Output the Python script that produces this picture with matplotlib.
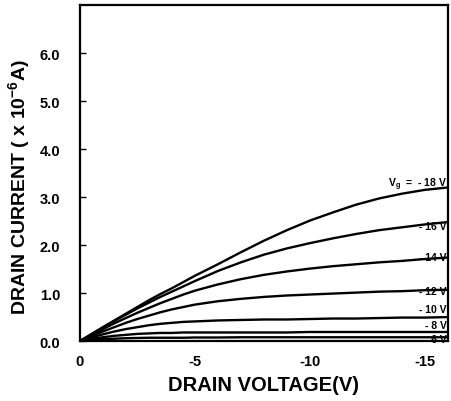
import numpy as np
import matplotlib
matplotlib.use("Agg")
import matplotlib.pyplot as plt

plt.rcParams['font.family'] = ['Liberation Sans', 'DejaVu Sans']
plt.rcParams['font.weight'] = 'bold'
plt.rcParams['mathtext.fontset'] = 'custom'
plt.rcParams['mathtext.rm'] = 'Liberation Sans:bold'
plt.rcParams['mathtext.it'] = 'Liberation Sans:bold'

# drain voltage (V)
vd = [0, -0.5, -1, -1.5, -2, -2.5, -3, -3.5, -4, -4.5, -5,
      -6, -7, -8, -9, -10, -11, -12, -13, -14, -15, -16]

# drain current (x 10^-6 A) for each gate voltage
i_18 = [0, 0.145, 0.29, 0.43, 0.57, 0.71, 0.85, 0.98, 1.10, 1.23, 1.36,
        1.60, 1.85, 2.09, 2.31, 2.51, 2.68, 2.84, 2.97, 3.07, 3.15, 3.20]
i_16 = [0, 0.14, 0.28, 0.42, 0.55, 0.68, 0.80, 0.92, 1.03, 1.14, 1.25,
        1.46, 1.64, 1.80, 1.93, 2.04, 2.14, 2.23, 2.31, 2.37, 2.43, 2.48]
i_14 = [0, 0.125, 0.25, 0.37, 0.48, 0.59, 0.69, 0.79, 0.88, 0.97, 1.05,
        1.18, 1.29, 1.38, 1.45, 1.51, 1.56, 1.60, 1.64, 1.67, 1.71, 1.74]
i_12 = [0, 0.10, 0.20, 0.29, 0.38, 0.46, 0.53, 0.60, 0.66, 0.71, 0.76,
        0.83, 0.88, 0.92, 0.95, 0.97, 0.99, 1.01, 1.03, 1.04, 1.06, 1.07]
i_10 = [0, 0.075, 0.14, 0.20, 0.25, 0.29, 0.33, 0.36, 0.38, 0.40, 0.41,
        0.43, 0.44, 0.45, 0.45, 0.46, 0.47, 0.47, 0.48, 0.49, 0.49, 0.50]
i_8 = [0, 0.045, 0.08, 0.11, 0.13, 0.15, 0.16, 0.17, 0.17, 0.18, 0.18,
       0.18, 0.18, 0.18, 0.18, 0.19, 0.19, 0.19, 0.19, 0.19, 0.19, 0.19]
i_6 = [0, 0.02, 0.04, 0.05, 0.06, 0.065, 0.07, 0.07, 0.07, 0.07, 0.075,
       0.075, 0.08, 0.08, 0.08, 0.08, 0.08, 0.08, 0.08, 0.08, 0.08, 0.08]

curves = [i_18, i_16, i_14, i_12, i_10, i_8, i_6]
labels = [r"$\mathregular{V_g}$  =  - 18 V", "- 16 V", "- 14 V", "- 12 V", "- 10 V", "- 8 V", "- 6 V"]
label_y = [3.28, 2.40, 1.76, 1.05, 0.67, 0.34, 0.05]

fig = plt.figure(figsize=(4.51, 4.02), dpi=100)
ax = fig.add_axes([0.177, 0.149, 0.816, 0.836])

for cur in curves:
    ax.plot(vd, cur, color='black', lw=1.7)

for lab, yy in zip(labels, label_y):
    ax.text(-15.95, yy, lab, ha='right', va='center', fontsize=7.5, fontweight='bold')

ax.set_xlim(0, -16)
ax.set_ylim(0, 7.0)
ax.set_xticks([0, -5, -10, -15])
ax.set_xticklabels(['0', '-5', '-10', '-15'])
ax.set_yticks([0, 1, 2, 3, 4, 5, 6])
ax.set_yticklabels(['0.0', '1.0', '2.0', '3.0', '4.0', '5.0', '6.0'])
ax.tick_params(direction='in', length=4, width=1, labelsize=10.5)
ax.tick_params(axis='x', length=0, pad=9)
ax.tick_params(axis='y', pad=14)
for s in ax.spines.values():
    s.set_linewidth(1.6)

ax.set_xlabel('DRAIN VOLTAGE(V)', fontsize=14.5, fontweight='bold', labelpad=5)
ax.set_ylabel(r'DRAIN CURRENT ( x 10$^{-6}$A)', fontsize=14, fontweight='bold')
ax.yaxis.set_label_coords(-0.130, 0.461)

fig.savefig('out.png', dpi=100)
